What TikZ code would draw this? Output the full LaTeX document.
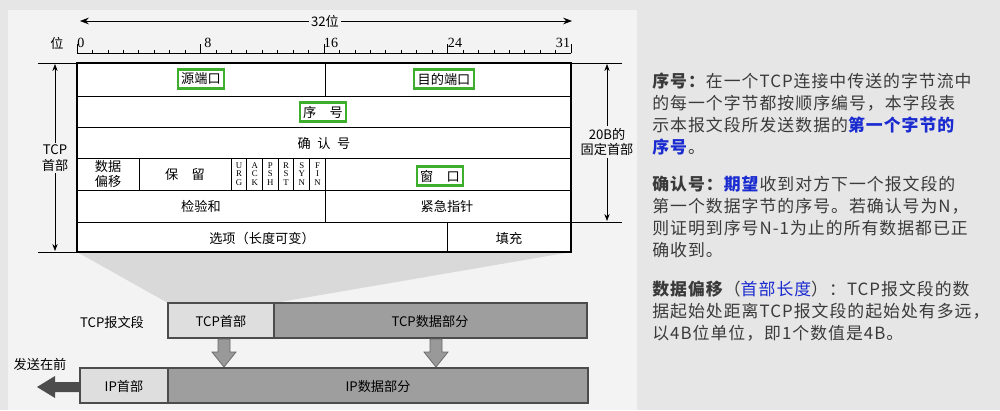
\documentclass[tikz,border=0pt]{standalone}
\usepackage{fontspec}
\setmainfont{Liberation Serif}
\newfontfamily\cjk[LetterSpace=6]{Noto Sans CJK SC}
\newfontfamily\cjkt{Noto Sans CJK SC}
\usetikzlibrary{arrows.meta}
\definecolor{bgR}{HTML}{E6E6E6}
\definecolor{bgL}{HTML}{F3F3F3}
\definecolor{gbox}{HTML}{3DAF2C}
\definecolor{tx}{HTML}{3A3A3A}
\definecolor{blu}{HTML}{1A2BD0}
\begin{document}
\begin{tikzpicture}[x=0.02cm,y=-0.02cm,
  lbl/.style={font=\cjkt\fontsize{7.5}{8.5}\selectfont,inner sep=1pt},
  gb/.style={draw=gbox,line width=1.3pt,inner sep=2pt,font=\cjkt\fontsize{7.5}{8.5}\selectfont},
  fl/.style={font=\fontsize{5}{5}\selectfont,align=center,inner sep=0pt},
  para/.style={font=\cjk\fontsize{9.6}{12.5}\selectfont,text=tx,align=left,anchor=north west,inner sep=0pt},
  blk/.style={draw=black!70,line width=0.8pt}]
\fill[bgR] (0,0) rectangle (1000,410);
\fill[bgL] (8,10) rectangle (637,410);
\useasboundingbox (0,0) rectangle (1000,410);
% ruler
\node[lbl] (w32) at (325,21) {32位};
\draw[-{Stealth[length=5pt]}] (w32.west) -- (80,21);
\draw[-{Stealth[length=5pt]}] (w32.east) -- (572,21);
\node[lbl] (wei) at (57,43) {位};
\draw (77,53) -- (571,53);
\foreach \i in {0,...,32}{\draw (77+\i*15.44,53) -- (77+\i*15.44,50);}
\foreach \i in {0,8,16}{\draw (77+\i*15.44,53) -- (77+\i*15.44,44);}
\draw (447,53) -- (447,44); \draw (571,53) -- (571,44);
\foreach \i/\x in {0/81,8/208,16/331,24/455,31/563}{\node[lbl,font=\fontsize{8}{9}\selectfont] (r\i) at (\x,43) {\i};}
% trapezoid
\fill[black!15] (77,252) -- (168,303) -- (274,303) -- (571,252) -- cycle;
% table
\fill[white] (77,63) rectangle (571,252);
\draw[line width=0.7pt] (77,63) rectangle (571,252);
\foreach \y in {96,127,158,190,222}{\draw (77,\y) -- (571,\y);}
\draw (325,63) -- (325,96);
\draw (325,158) -- (325,222);
\draw (139,158) -- (139,190);
\foreach \i in {0,...,5}{\draw (231+\i*15.7,158) -- (231+\i*15.7,190);}
\draw (447,222) -- (447,252);
\node[gb] (src) at (201,79) {源端口};
\node[gb] (dst) at (444,79) {目的端口};
\node[gb] (seq) at (323,112) {序\quad 号};
\node[lbl] (ack) at (324,143) {确\enspace 认\enspace 号};
\node[lbl,align=center,font=\cjkt\fontsize{7.5}{8}\selectfont] (off) at (108,174) {数据\\偏移};
\node[lbl] (res) at (185,174) {保\quad 留};
\foreach \t [count=\i from 0] in {U\\R\\G,A\\C\\K,P\\S\\H,R\\S\\T,S\\Y\\N,F\\I\\N}{\node[fl] (f\i) at (239+\i*15.7,174) {\t};}
\node[gb] (win) at (440,176) {窗\quad 口};
\node[lbl] (chk) at (201,206) {检验和};
\node[lbl] (urg) at (447,206) {紧急指针};
\node[lbl] (opt) at (262,238) {选项（长度可变）};
\node[lbl] (pad) at (509,238) {填充};
% left brace
\draw (38,63) -- (77,63); \draw (38,252) -- (77,252);
\node[lbl,align=center,fill=bgL,font=\cjkt\fontsize{7.5}{9}\selectfont] (tcph) at (55,158) {TCP\\首部};
\draw[-{Stealth[length=4pt]}] (tcph.north) -- (55,64);
\draw[-{Stealth[length=4pt]}] (tcph.south) -- (55,251);
% right brace
\draw (571,63) -- (622,63); \draw (571,222) -- (622,222);
\node[lbl,align=center,fill=bgL,font=\cjkt\fontsize{7.5}{9}\selectfont] (fix) at (607,142) {20B的\\固定首部};
\draw[-{Stealth[length=4pt]}] (fix.north) -- (607,64);
\draw[-{Stealth[length=4pt]}] (fix.south) -- (607,221);
% TCP segment
\node[lbl] (tseg) at (112,322) {TCP报文段};
\draw[blk,fill=black!13] (168,303) rectangle (274,338);
\draw[blk,fill=black!38] (274,303) rectangle (587,338);
\node[lbl] (th) at (221,321) {TCP首部};
\node[lbl] (td) at (430,321) {TCP数据部分};
% IP
\draw[blk,fill=black!13] (80,368) rectangle (168,403);
\draw[blk,fill=black!38] (168,368) rectangle (588,403);
\node[lbl] (ih) at (124,386) {IP首部};
\node[lbl] (id) at (378,386) {IP数据部分};
\node[lbl] (send) at (40,364) {发送在前};
\fill[black!70] (80,382) -- (55,382) -- (55,376) -- (37,387) -- (55,398) -- (55,392) -- (80,392) -- cycle;
\foreach \x in {224,436}{
 \filldraw[draw=black!60,fill=black!40] (\x-6,339) -- (\x+6,339) -- (\x+6,352) -- (\x+12,352) -- (\x,367) -- (\x-12,352) -- (\x-6,352) -- cycle;}
% right text
\node[para] (p1) at (652,73) {\textbf{序号：}在一个TCP连接中传送的字节流中\\的每一个字节都按顺序编号，本字段表\\示本报文段所发送数据的\textcolor{blu}{\textbf{第一个字节的}}\\\textcolor{blu}{\textbf{序号}}。};
\node[para] (p2) at (652,176) {\textbf{确认号：}\textcolor{blu}{\textbf{期望}}收到对方下一个报文段的\\第一个数据字节的序号。若确认号为N，\\则证明到序号N-1为止的所有数据都已正\\确收到。};
\node[para] (p3) at (652,281) {\textbf{数据偏移}（\textcolor{blu}{首部长度}）：TCP报文段的数\\据起始处距离TCP报文段的起始处有多远，\\以4B位单位，即1个数值是4B。};
\end{tikzpicture}
\end{document}
